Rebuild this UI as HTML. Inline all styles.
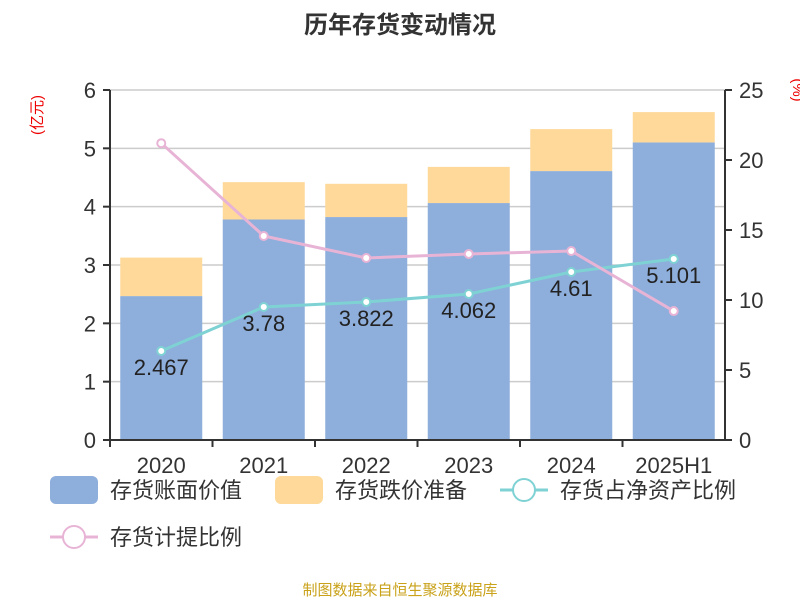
<!DOCTYPE html>
<html><head><meta charset="utf-8"><style>
body{margin:0;background:#fff;}
svg text{font-family:"Liberation Sans","Noto Sans CJK SC",sans-serif;}
</style></head><body>
<svg id="chart" width="800" height="600" xmlns="http://www.w3.org/2000/svg">
<text x="400" y="33" text-anchor="middle" font-size="24" font-weight="bold" fill="#333">历年存货变动情况</text>
<text transform="translate(42,115) rotate(-90)" text-anchor="middle" font-size="15" fill="#e00">(亿元)</text>
<text transform="translate(793,90) rotate(90)" text-anchor="middle" font-size="15" fill="#e00">(%)</text>
<g id="grid"></g><g id="bars"></g><g id="lines"></g><g id="axes"></g>
<g>
<rect x="50" y="476" width="48" height="28" rx="6" fill="#8eaedb"/>
<text x="110" y="498" font-size="22" fill="#333">存货账面价值</text>
<rect x="275" y="476" width="48" height="28" rx="6" fill="#fed99a"/>
<text x="335" y="498" font-size="22" fill="#333">存货跌价准备</text>
<line x1="500" y1="490" x2="548" y2="490" stroke="#7fd2d4" stroke-width="3"/>
<circle cx="524" cy="490" r="11" fill="#fff" stroke="#7fd2d4" stroke-width="2"/>
<text x="560" y="498" font-size="22" fill="#333">存货占净资产比例</text>
<line x1="50" y1="537" x2="98" y2="537" stroke="#e8b4d6" stroke-width="3"/>
<circle cx="74" cy="537" r="11" fill="#fff" stroke="#e8b4d6" stroke-width="2"/>
<text x="110" y="545" font-size="22" fill="#333">存货计提比例</text>
</g>
<text x="400" y="595" text-anchor="middle" font-size="15" fill="#c9a21a">制图数据来自恒生聚源数据库</text>
</svg>
<script>
const categories=["2020","2021","2022","2023","2024","2025H1"];
const bookValue=[2.467,3.78,3.822,4.062,4.61,5.101];
const reserve=[0.66,0.64,0.57,0.62,0.72,0.52];
const netAssetRatio=[6.36,9.5,9.86,10.43,12.0,12.93];
const provisionRatio=[21.2,14.57,13.0,13.29,13.5,9.21];
const leftTicks=[0,1,2,3,4,5,6];
const rightTicks=[0,5,10,15,20,25];
const NS="http://www.w3.org/2000/svg";
const X0=110,X1=725,Y0=440,Y1=90;
const band=(X1-X0)/categories.length;
const xc=i=>X0+band*(i+0.5);
const yL=v=>Y0-(v/6)*(Y0-Y1);
const yR=v=>Y0-(v/25)*(Y0-Y1);
function mk(tag,attrs,parent,text){const e=document.createElementNS(NS,tag);for(const k in attrs)e.setAttribute(k,attrs[k]);if(text!==undefined)e.textContent=text;document.getElementById(parent).appendChild(e);return e;}
leftTicks.forEach(t=>{
 if(t>0){const g=mk('line',{x1:X0,x2:X1,y1:yL(t),y2:yL(t),stroke:'#ccc','stroke-width':1.5},'grid');
 
 }
 const tk=mk('line',{x1:X0-7,x2:X0,y1:yL(t),y2:yL(t),stroke:'#333','stroke-width':2},'axes');
 
 
 const l=mk('text',{x:X0-14,y:yL(t)+8,'text-anchor':'end','font-size':22,fill:'#333'},'axes',String(t));
 
 
});
rightTicks.forEach(t=>{
 const tk=mk('line',{x1:X1,x2:X1+7,y1:yR(t),y2:yR(t),stroke:'#333','stroke-width':2},'axes');
 
 
 const l=mk('text',{x:X1+14,y:yR(t)+8,'font-size':22,fill:'#333'},'axes',String(t));
 
 
});
const bw=band*0.8;
categories.forEach((c,i)=>{
 const b=mk('rect',{x:xc(i)-bw/2,y:yL(bookValue[i]),width:bw,height:Y0-yL(bookValue[i]),fill:'#8eaedb'},'bars');
 
 
 const r=mk('rect',{x:xc(i)-bw/2,y:yL(bookValue[i]+reserve[i]),width:bw,height:yL(bookValue[i])-yL(bookValue[i]+reserve[i]),fill:'#fed99a'},'bars');
 
 
 const xl=mk('text',{x:xc(i),y:473,'text-anchor':'middle','font-size':22,fill:'#333'},'axes',c);
 
 
 const xt=mk('line',{x1:X0+band*i,x2:X0+band*i,y1:Y0,y2:Y0+7,stroke:'#333','stroke-width':2},'axes');
 
 
});
function series(vals,color,name){
 const pts=vals.map((v,i)=>xc(i)+','+yR(v)).join(' ');
 const p=mk('polyline',{points:pts,fill:'none',stroke:color,'stroke-width':3},'lines');
 
 
 vals.forEach((v,i)=>{const c=mk('circle',{cx:xc(i),cy:yR(v),r:4,fill:'#fff',stroke:color,'stroke-width':2},'lines');
 
 });
}
series(netAssetRatio,'#7fd2d4','net-asset-ratio');
series(provisionRatio,'#e8b4d6','provision-ratio');
bookValue.forEach((v,i)=>{
 const t=mk('text',{x:xc(i),y:Math.min(yL(v)+105,yL(v)+Math.max(0,(Y0-yL(v))*0.45))+0,'text-anchor':'middle','font-size':22,fill:'#222'},'lines',String(v));
 t.setAttribute('y',yR(netAssetRatio[i])+24);
 
 
});
const ax1=mk('line',{x1:X0,x2:X0,y1:Y1,y2:Y0,stroke:'#333','stroke-width':2},'axes');


const ax2=mk('line',{x1:X1,x2:X1,y1:Y1,y2:Y0,stroke:'#333','stroke-width':2},'axes');


const ax3=mk('line',{x1:X0,x2:X1,y1:Y0,y2:Y0,stroke:'#333','stroke-width':2},'axes');


</script>
</body></html>
